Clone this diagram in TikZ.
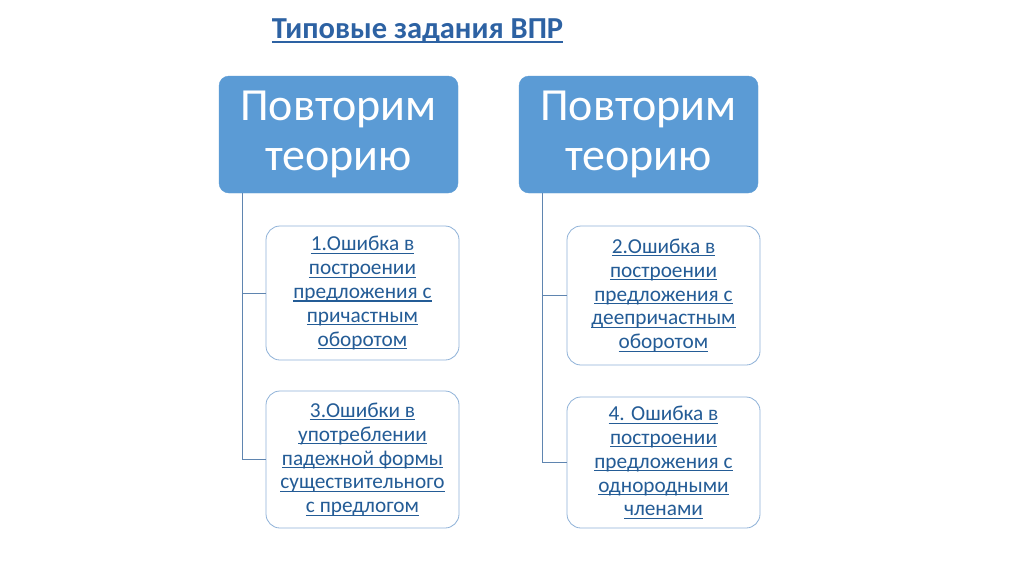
\documentclass[tikz,border=0pt]{standalone}
\usepackage{fontspec}
\setmainfont{Carlito}
\usetikzlibrary{positioning}
\definecolor{headblue}{HTML}{5B9BD5}
\definecolor{linkblue}{HTML}{245C96}
\definecolor{titleblue}{HTML}{2D62A3}
\definecolor{edgeblue}{HTML}{8FB2D8}
\definecolor{trunkblue}{HTML}{5F85B0}
\newcommand{\lnk}[1]{\setbox0\hbox{#1}\leavevmode\rlap{\rule[-0.14em]{\wd0}{0.05em}}\box0}

\begin{document}
\begin{tikzpicture}[x=1pt,y=-1pt,
        headbox/.style={draw=headblue,fill=headblue,rounded corners=10pt,text=white,
                minimum width=239pt,minimum height=117pt,align=center,
                font=\fontsize{46}{50}\selectfont},
        errbox/.style={draw=edgeblue,fill=white,rounded corners=14pt,text=linkblue,
                minimum width=193pt,align=center,line width=0.8pt,
                font=\fontsize{21.3}{23.8}\selectfont},
        trunk/.style={draw=trunkblue,line width=0.8pt}]
                \useasboundingbox[fill=white] (0,0) rectangle (1024,574);

                \node[text=titleblue,font=\fontsize{30.5}{34}\selectfont\bfseries] (title) at (417.5,31) {\lnk{Типовые задания ВПР}}; %title

                \node[headbox] (theoryL) at (338.5,134.5) {Повторим\\теорию}; %left head
                \node[headbox] (theoryR) at (638.5,134.5) {Повторим\\теорию}; %right head

                \node[errbox,minimum height=134pt] (err1) at (362.5,293) {\lnk{1.Ошибка в}\\\lnk{построении}\\\lnk{предложения с}\\\lnk{причастным}\\\lnk{оборотом}}; %err1
                \node[errbox,minimum height=137pt] (err3) at (362.5,459.5) {\lnk{3.Ошибки в}\\\lnk{употреблении}\\\lnk{падежной формы}\\\lnk{существительного}\\\lnk{с предлогом}}; %err3
                \node[errbox,minimum height=139pt] (err2) at (663.5,295.5) {\lnk{2.Ошибка в}\\\lnk{построении}\\\lnk{предложения с}\\\lnk{деепричастным}\\\lnk{оборотом}}; %err2
                \node[errbox,minimum height=131pt] (err4) at (663.5,462.5) {\lnk{4. Ошибка в}\\\lnk{построении}\\\lnk{предложения с}\\\lnk{однородными}\\\lnk{членами}}; %err4

                \coordinate (trunkL) at ([xshift=24pt]theoryL.south west);
                \coordinate (trunkR) at ([xshift=24pt]theoryR.south west);
                \draw[trunk] (trunkL) |- (err1.west);
                \draw[trunk] (trunkL) |- (err3.west);
                \draw[trunk] (trunkR) |- (err2.west);
                \draw[trunk] (trunkR) |- (err4.west);
            \end{tikzpicture}
\end{document}
